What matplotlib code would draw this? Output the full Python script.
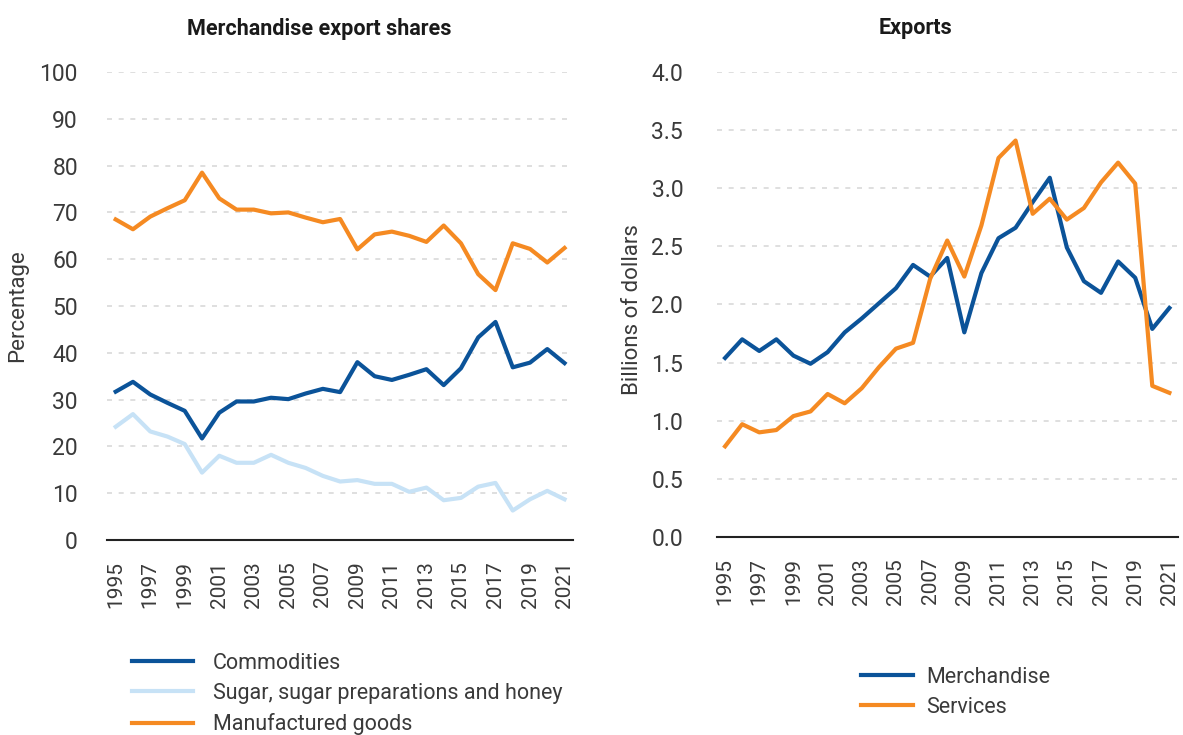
import numpy as np
import matplotlib.pyplot as plt

years = list(range(1995, 2022))

commodities = [31.7, 33.8, 31.1, 29.3, 27.6, 21.7, 27.2, 29.6, 29.6, 30.4,
               30.1, 31.3, 32.3, 31.6, 38.0, 35.0, 34.2, 35.3, 36.5, 33.1,
               36.7, 43.3, 46.6, 36.9, 37.9, 40.8, 37.8]
sugar = [24.2, 26.9, 23.2, 22.1, 20.5, 14.4, 18.0, 16.5, 16.5, 18.2,
         16.5, 15.4, 13.7, 12.5, 12.8, 12.0, 12.0, 10.3, 11.2, 8.5,
         9.0, 11.4, 12.2, 6.3, 8.7, 10.5, 8.7]
manufactured = [68.5, 66.4, 69.1, 70.9, 72.6, 78.5, 73.0, 70.6, 70.6, 69.8,
                70.0, 68.9, 67.9, 68.6, 62.1, 65.3, 65.9, 65.0, 63.7, 67.2,
                63.4, 56.8, 53.4, 63.4, 62.2, 59.3, 62.4]

merchandise = [1.54, 1.70, 1.60, 1.70, 1.56, 1.49, 1.59, 1.76, 1.88, 2.01,
               2.14, 2.34, 2.24, 2.40, 1.76, 2.27, 2.57, 2.66, 2.88, 3.09,
               2.49, 2.20, 2.10, 2.37, 2.23, 1.79, 1.97]
services = [0.78, 0.97, 0.90, 0.92, 1.04, 1.08, 1.23, 1.15, 1.28, 1.46,
            1.62, 1.67, 2.22, 2.55, 2.24, 2.68, 3.26, 3.41, 2.78, 2.91,
            2.73, 2.83, 3.05, 3.22, 3.04, 1.30, 1.24]

DARK_BLUE = '#0B5399'
LIGHT_BLUE = '#C7E2F6'
ORANGE = '#F58A22'
GRID = '#D9D9D9'
TXT = '#3a3a3a'

plt.rcParams['font.family'] = ['Roboto', 'DejaVu Sans']

fig = plt.figure(figsize=(11.83, 7.35), dpi=100)
ax1 = fig.add_axes([0.0905, 0.2653, 0.394, 0.6367])
ax2 = fig.add_axes([0.6057, 0.2694, 0.390, 0.6327])


def style(ax, ylim, yticks, fmt, ypad):
    ax.set_xlim(1994.5, 2021.5)
    ax.set_ylim(*ylim)
    ax.set_yticks(yticks)
    ax.set_yticklabels([fmt.format(v) for v in yticks])
    ax.set_xticks(years[::2])
    ax.set_xticklabels([str(y) for y in years[::2]], rotation=90)
    for s in ['top', 'right', 'left']:
        ax.spines[s].set_visible(False)
    ax.spines['bottom'].set_color('#222222')
    ax.spines['bottom'].set_linewidth(1.5)
    ax.grid(axis='y', color=GRID, linestyle=(0, (3, 4)), linewidth=1.2)
    ax.set_axisbelow(True)
    ax.tick_params(axis='y', length=0, labelsize=16.5, colors=TXT, pad=ypad)
    ax.tick_params(axis='x', length=0, labelsize=15, colors=TXT, pad=15)


ax1.plot(years, commodities, color=DARK_BLUE, lw=3, label='Commodities')
ax1.plot(years, sugar, color=LIGHT_BLUE, lw=3, label='Sugar, sugar preparations and honey')
ax1.plot(years, manufactured, color=ORANGE, lw=3, label='Manufactured goods')
style(ax1, (0, 100), list(range(0, 101, 10)), '{:.0f}', 21)
ax1.set_ylabel('Percentage', fontsize=16, color=TXT)
ax1.yaxis.set_label_coords(-0.170, 0.5)
ax1.set_title('Merchandise export shares', fontsize=15.5, fontweight='bold',
              color='#1a1a1a', x=0.455, pad=27)

ax2.plot(years, merchandise, color=DARK_BLUE, lw=3, label='Merchandise')
ax2.plot(years, services, color=ORANGE, lw=3, label='Services')
style(ax2, (0, 4.0), [0.0, 0.5, 1.0, 1.5, 2.0, 2.5, 3.0, 3.5, 4.0], '{:.1f}', 24)
ax2.set_ylabel('Billions of dollars', fontsize=16, color=TXT)
ax2.yaxis.set_label_coords(-0.159, 0.49)
ax2.set_title('Exports', fontsize=15.5, fontweight='bold', color='#1a1a1a',
              x=0.432, pad=27)

leg1 = ax1.legend(loc='upper left', bbox_to_anchor=(0.013, -0.20), frameon=False,
                  fontsize=15.5, handlelength=2.8, handletextpad=0.95, labelspacing=0.42)
leg2 = ax2.legend(loc='upper left', bbox_to_anchor=(0.272, -0.237), frameon=False,
                  fontsize=15.5, handlelength=2.4, handletextpad=0.6, labelspacing=0.42)
for leg in (leg1, leg2):
    for t in leg.get_texts():
        t.set_color(TXT)

fig.savefig('out.png', dpi=100)
